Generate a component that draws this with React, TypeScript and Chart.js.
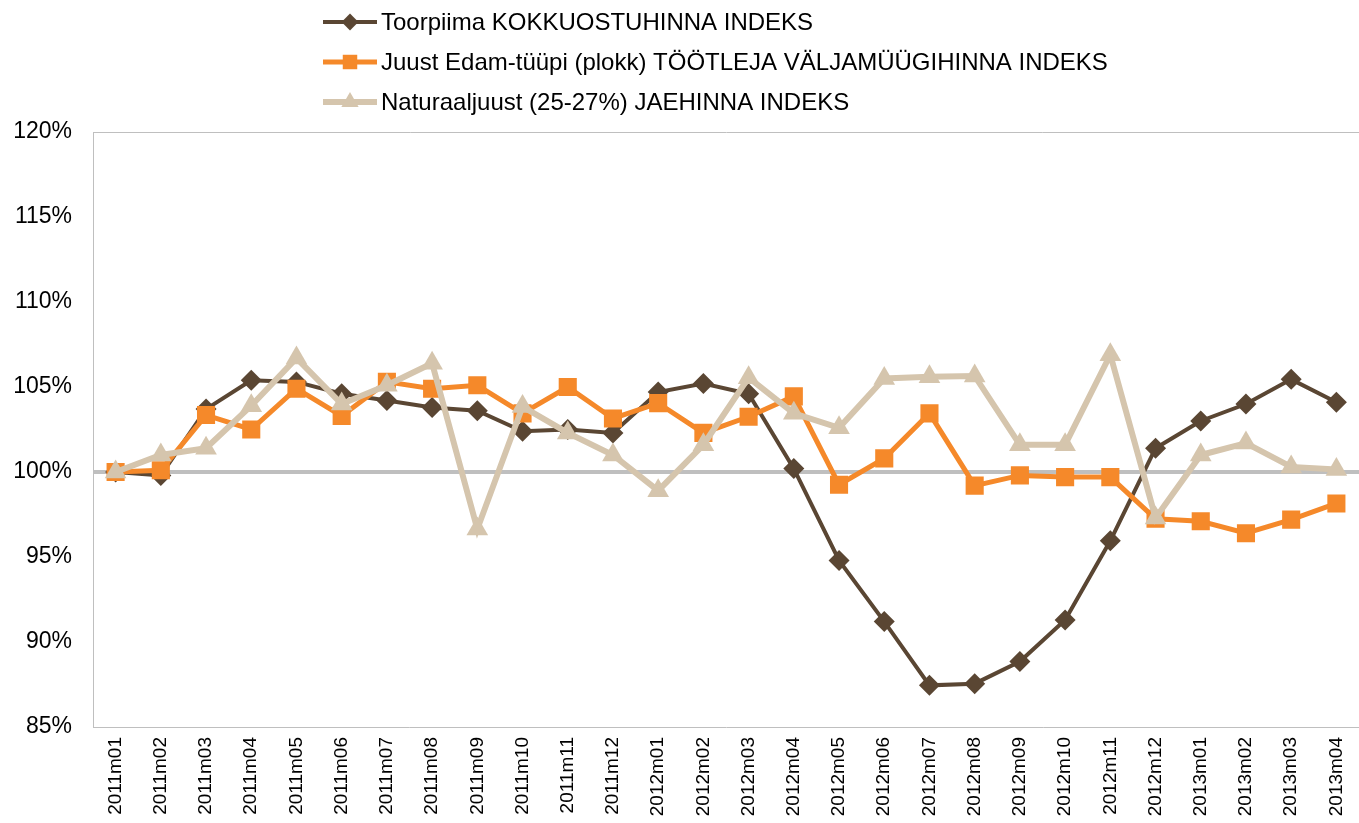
import React, { useEffect, useRef } from "react";
import { Chart, registerables } from "chart.js";

Chart.register(...registerables);

const categories = [
  "2011m01", "2011m02", "2011m03", "2011m04", "2011m05", "2011m06", "2011m07",
  "2011m08", "2011m09", "2011m10", "2011m11", "2011m12", "2012m01", "2012m02",
  "2012m03", "2012m04", "2012m05", "2012m06", "2012m07", "2012m08", "2012m09",
  "2012m10", "2012m11", "2012m12", "2013m01", "2013m02", "2013m03", "2013m04",
];

const toorpiima = [
  100, 99.8, 103.7, 105.4, 105.3, 104.6, 104.2, 103.8, 103.6, 102.4, 102.5, 102.3,
  104.7, 105.2, 104.6, 100.2, 94.8, 91.2, 87.45, 87.55, 88.85, 91.3, 95.95, 101.4,
  103.0, 104.0, 105.45, 104.1,
];

const juust = [
  100, 100.1, 103.35, 102.5, 104.9, 103.3, 105.3, 104.9, 105.1, 103.45, 105.0, 103.15,
  104.05, 102.3, 103.25, 104.45, 99.25, 100.8, 103.45, 99.2, 99.8, 99.7, 99.7, 97.25,
  97.1, 96.4, 97.2, 98.15,
];

const naturaaljuust = [
  100, 101.0, 101.4, 103.9, 106.7, 104.0, 105.1, 106.4, 96.65, 103.85, 102.3, 101.0,
  98.9, 101.6, 105.55, 103.45, 102.6, 105.5, 105.6, 105.65, 101.6, 101.6, 106.9, 97.3,
  101.0, 101.7, 100.3, 100.15,
];

const seriesNames = [
  "Toorpiima KOKKUOSTUHINNA INDEKS",
  "Juust Edam-tüüpi (plokk) TÖÖTLEJA VÄLJAMÜÜGIHINNA INDEKS",
  "Naturaaljuust (25-27%) JAEHINNA INDEKS",
];

const yTicks = [85, 90, 95, 100, 105, 110, 115, 120];

const BROWN = "#5A4633";
const ORANGE = "#F5892A";
const BEIGE = "#D5C5AD";
const GRAY = "#BFBFBF";
const FONT = '"Liberation Sans", Arial, sans-serif';

function drawMarker(ctx: CanvasRenderingContext2D, style: string, x: number, y: number, r: number) {
  ctx.beginPath();
  if (style === "rectRot") {
    ctx.moveTo(x, y - r);
    ctx.lineTo(x + r, y);
    ctx.lineTo(x, y + r);
    ctx.lineTo(x - r, y);
  } else if (style === "rect") {
    const h = r * Math.SQRT1_2;
    ctx.rect(x - h, y - h, 2 * h, 2 * h);
  } else {
    ctx.moveTo(x, y - r);
    ctx.lineTo(x + r * Math.sin((2 * Math.PI) / 3), y + r / 2);
    ctx.lineTo(x - r * Math.sin((2 * Math.PI) / 3), y + r / 2);
  }
  ctx.closePath();
  ctx.fill();
}

const legendPlugin = {
  id: "verticalLegend",
  afterDraw(chart: any) {
    const ctx: CanvasRenderingContext2D = chart.ctx;
    ctx.save();
    ctx.font = `24px ${FONT}`;
    ctx.textBaseline = "middle";
    ctx.textAlign = "left";
    const datasets = chart.data.datasets;
    const lineLen = 54;
    const gap = 4;
    const x0 = chart.chartArea.left + 230;
    datasets.forEach((ds: any, i: number) => {
      const y = 22 + i * 40;
      ctx.strokeStyle = ds.borderColor;
      ctx.lineWidth = ds.borderWidth;
      ctx.beginPath();
      ctx.moveTo(x0, y);
      ctx.lineTo(x0 + lineLen, y);
      ctx.stroke();
      ctx.fillStyle = ds.pointBackgroundColor;
      drawMarker(ctx, ds.pointStyle, x0 + lineLen / 2, y, ds.pointRadius * 0.8);
      ctx.fillStyle = "#000";
      ctx.fillText(ds.label, x0 + lineLen + gap, y + 1);
    });
    ctx.restore();
  },
};

export default function App() {
  const canvasRef = useRef<HTMLCanvasElement | null>(null);

  useEffect(() => {
    const canvas = canvasRef.current;
    if (!canvas) return;
    const chart = new Chart(canvas, {
      type: "line",
      data: {
        labels: categories,
        datasets: [
          {
            label: seriesNames[0],
            data: toorpiima,
            borderColor: BROWN,
            backgroundColor: BROWN,
            pointBackgroundColor: BROWN,
            pointBorderColor: BROWN,
            borderWidth: 4,
            pointStyle: "rectRot",
            pointRadius: 10.5,
            pointBorderWidth: 0,
            order: 3,
          },
          {
            label: seriesNames[1],
            data: juust,
            borderColor: ORANGE,
            backgroundColor: ORANGE,
            pointBackgroundColor: ORANGE,
            pointBorderColor: ORANGE,
            borderWidth: 5,
            pointStyle: "rect",
            pointRadius: 12.8,
            pointBorderWidth: 0,
            order: 2,
          },
          {
            label: seriesNames[2],
            data: naturaaljuust,
            borderColor: BEIGE,
            backgroundColor: BEIGE,
            pointBackgroundColor: BEIGE,
            pointBorderColor: BEIGE,
            borderWidth: 6,
            pointStyle: "triangle",
            pointRadius: 12.5,
            pointBorderWidth: 0,
            order: 1,
          },
        ] as any,
      },
      options: {
        animation: false,
        responsive: false,
        devicePixelRatio: 1,
        layout: { autoPadding: false, padding: { top: 132, left: 0, right: 0, bottom: 0 } },
        plugins: {
          legend: { display: false },
          tooltip: { enabled: false },
          title: { display: false },
        },
        elements: { line: { tension: 0 } },
        scales: {
          x: {
            type: "category",
            offset: true,
            grid: { display: false, drawTicks: false },
            border: { display: true, color: GRAY, width: 1 },
            ticks: {
              autoSkip: false,
              minRotation: 90,
              maxRotation: 90,
              padding: 10,
              color: "#000",
              font: { family: FONT, size: 19 },
            },
            afterFit: (scale: any) => {
              scale.height = 96;
              scale.paddingLeft = 0;
              scale.paddingRight = 0;
            },
          },
          y: {
            type: "linear",
            min: 85,
            max: 120,
            afterBuildTicks: (scale: any) => {
              scale.ticks = yTicks.map((v) => ({ value: v }));
            },
            grid: {
              drawTicks: false,
              color: (c: any) =>
                c.tick && (c.tick.value === 100 || c.tick.value === 120) ? GRAY : "rgba(0,0,0,0)",
              lineWidth: (c: any) => (c.tick && c.tick.value === 100 ? 4 : 1),
            },
            border: { display: true, color: GRAY, width: 1 },
            ticks: {
              padding: 21,
              color: "#000",
              font: { family: FONT, size: 23 },
              callback: (v: any) => `${v}%`,
            },
            afterFit: (scale: any) => {
              scale.width = 93;
              scale.paddingTop = 0;
              scale.paddingBottom = 0;
            },
          },
        },
      },
      plugins: [legendPlugin],
    });
    return () => chart.destroy();
  }, []);

  return (
    <div style={{ position: "absolute", left: 0, top: 0, width: 1359, height: 823, background: "#fff" }}>
      <canvas ref={canvasRef} width={1359} height={823} style={{ display: "block" }} />
    </div>
  );
}
